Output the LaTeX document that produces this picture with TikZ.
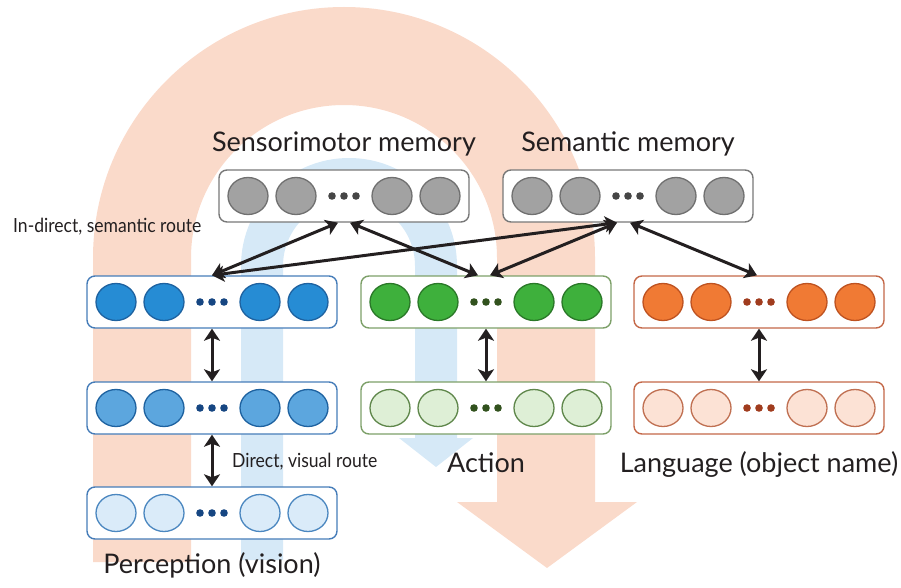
\documentclass[tikz,border=0pt]{standalone}
\usepackage{fontspec}
\setmainfont{Lato}
\newfontfamily\narrowfont[FakeStretch=0.9]{Lato}
\usepackage{tikz}
\usetikzlibrary{arrows.meta}
\usetikzlibrary{shapes}
\usetikzlibrary{positioning}

\definecolor{ink}{RGB}{35,31,32}
\definecolor{salmon}{RGB}{250,218,202}
\definecolor{skyblue}{RGB}{214,233,247}
\definecolor{visbox}{RGB}{70,125,185}
\definecolor{visdark}{RGB}{38,140,212}
\definecolor{visdarkb}{RGB}{30,98,160}
\definecolor{vismid}{RGB}{92,166,222}
\definecolor{vislight}{RGB}{218,235,249}
\definecolor{visline}{RGB}{75,135,192}
\definecolor{visdot}{RGB}{22,70,130}
\definecolor{actbox}{RGB}{125,160,105}
\definecolor{actdark}{RGB}{62,176,60}
\definecolor{actdarkb}{RGB}{42,120,40}
\definecolor{actlight}{RGB}{222,239,214}
\definecolor{actline}{RGB}{95,135,75}
\definecolor{actdot}{RGB}{50,82,30}
\definecolor{lanbox}{RGB}{196,104,72}
\definecolor{landark}{RGB}{240,122,52}
\definecolor{landarkb}{RGB}{190,82,32}
\definecolor{lanlight}{RGB}{252,226,213}
\definecolor{lanline}{RGB}{192,112,82}
\definecolor{landot}{RGB}{160,60,30}
\definecolor{membox}{RGB}{120,120,120}
\definecolor{memfill}{RGB}{162,162,162}
\definecolor{memline}{RGB}{112,112,112}
\definecolor{memdot}{RGB}{70,70,70}

% name, x, y, box colour, unit fill, unit border, dot colour
\newcommand{\layer}[7]{
  \node[layerbox,draw=#4] (#1) at (#2,#3) {};
  \foreach \dx [count=\i] in {-96,-48,48,96}
    \node[unit,fill=#5,draw=#6] (#1-\i) at (#2+\dx,#3) {};
  \foreach \dx in {-12,0,12}
    \fill[#7] (#2+\dx,#3) circle (3.8);
}

\begin{document}
\begin{tikzpicture}[x=1pt,y=-1pt,
  layerbox/.style={rounded corners=8pt,line width=1.4pt,fill=white,minimum width=250pt,minimum height=52pt},
  unit/.style={ellipse,line width=1.3pt,minimum width=40pt,minimum height=37pt,inner sep=0pt},
  biglabel/.style={text=ink,font=\fontsize{27}{30}\selectfont,inner sep=0pt},
  smalllabel/.style={text=ink,font=\narrowfont\fontsize{19.5}{22}\selectfont,inner sep=0pt},
  link/.style={<->,>={Stealth[length=12pt,width=16pt,inset=3pt]},line width=3pt,draw=ink}]
\useasboundingbox (0,0) rectangle (901,588);

% background routes
\fill[salmon] (93,562) -- (93,258) arc[start angle=180,end angle=360,radius=251]
  -- (595,502) -- (637,502) -- (547,568) -- (457,502) -- (497,502)
  -- (497,258) arc[start angle=360,end angle=180,radius=153] -- (191,562) -- cycle;
\fill[skyblue] (241,560) -- (241,266) arc[start angle=180,end angle=360,radius=108]
  -- (457,438) -- (473,438) -- (436,467) -- (399,438) -- (415,438)
  -- (415,266) arc[start angle=360,end angle=180,radius=66] -- (283,560) -- cycle;

\layer{sensori}{344}{196}{membox}{memfill}{memline}{memdot}
\layer{semantic}{628}{196}{membox}{memfill}{memline}{memdot}
\layer{percA}{212}{302}{visbox}{visdark}{visdarkb}{visdot}
\layer{percB}{212}{408}{visbox}{vismid}{visdarkb}{visdot}
\layer{percC}{212}{513}{visbox}{vislight}{visline}{visdot}
\layer{actA}{486}{302}{actbox}{actdark}{actdarkb}{actdot}
\layer{actB}{486}{408}{actbox}{actlight}{actline}{actdot}
\layer{langA}{759}{302}{lanbox}{landark}{landarkb}{landot}
\layer{langB}{759}{408}{lanbox}{lanlight}{lanline}{landot}

\node[biglabel,above=18pt of sensori,anchor=base] (smlabel) {Sensorimotor memory};
\node[biglabel,above=18pt of semantic,anchor=base] (semlabel) {Semantic memory};
\node[biglabel,below=34pt of percC,anchor=base] (perclabel) {Perception (vision)};
\node[biglabel,below=38pt of actB,anchor=base] (actlabel) {Action};
\node[biglabel,below=38pt of langB,anchor=base] (langlabel) {Language (object name)};
\node[smalllabel,anchor=base west] (indirect) at (13,232) {In-direct, semantic route};
\node[smalllabel,anchor=base west] (direct) at (232,467) {Direct, visual route};

\draw[link] (percA.north) -- ([xshift=-6pt]sensori.south);
\draw[link] ([xshift=-8pt]actA.north) -- ([xshift=6pt]sensori.south);
\draw[link] (percA.north) -- ([xshift=-11pt]semantic.south);
\draw[link] ([xshift=4pt]actA.north) -- ([xshift=-11pt]semantic.south);
\draw[link] ([xshift=-2pt]langA.north) -- ([xshift=2pt]semantic.south);
\draw[link] (percA) -- (percB);
\draw[link] (percB) -- (percC);
\draw[link] (actA) -- (actB);
\draw[link] (langA) -- (langB);
\end{tikzpicture}
\end{document}
